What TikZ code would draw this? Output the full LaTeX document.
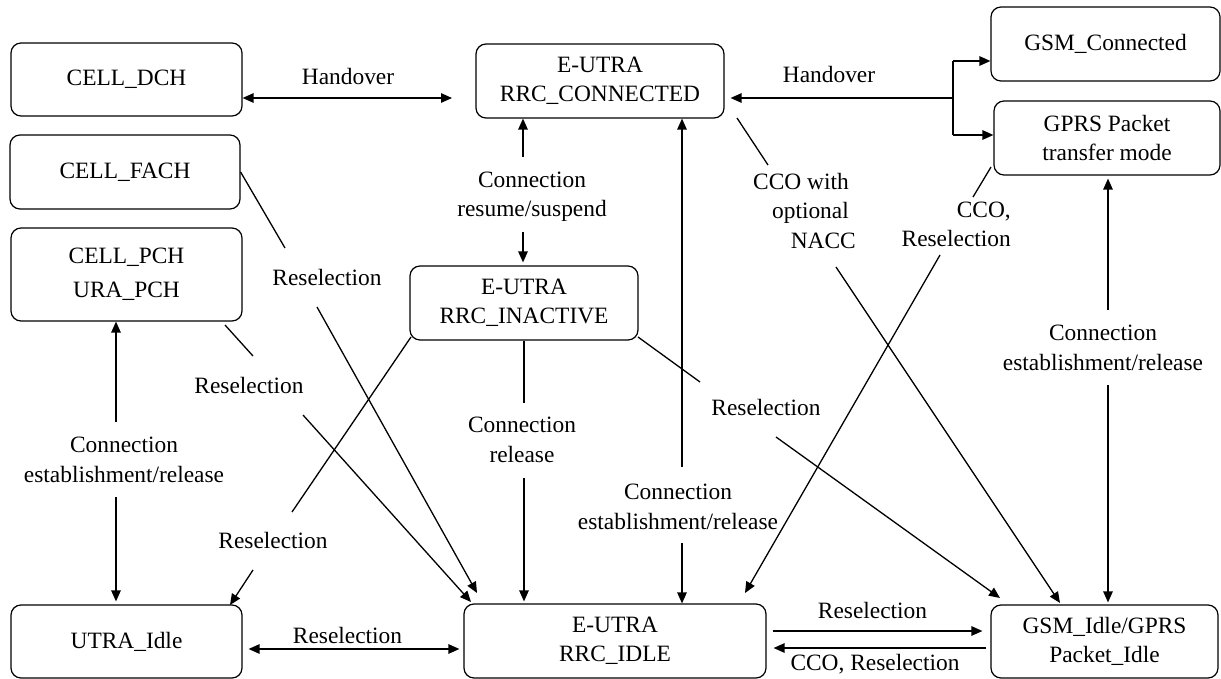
\documentclass[tikz,border=0pt]{standalone}
\usepackage{fontspec}
\setmainfont{Liberation Serif}
\usetikzlibrary{arrows.meta}
\tikzset{
  state/.style={draw, line width=1.2pt, rounded corners=10pt, align=center, inner sep=0pt,
    font=\fontsize{23.4}{29.5}\selectfont},
  lbl/.style={inner sep=0pt, align=center, font=\fontsize{23.4}{29.5}\selectfont},
  ln/.style={line width=1.3pt},
  arr/.style={line width=1.3pt, -{Triangle[length=11pt,width=9.5pt]}},
  dbl/.style={line width=1.3pt, {Triangle[length=11pt,width=9.5pt]}-{Triangle[length=11pt,width=9.5pt]}}
}
\begin{document}
\begin{tikzpicture}[x=1pt,y=-1pt]
\useasboundingbox (0,0) rectangle (1221,679);
% states
\node[state, minimum width=231pt, minimum height=73pt] (dch) at (126.5,79.5) {CELL\_DCH};
\node[state, minimum width=230pt, minimum height=74pt] (fach) at (125,172) {CELL\_FACH};
\node[state, minimum width=231pt, minimum height=93pt] (pch) at (126.5,274.5) {CELL\_PCH\\[5pt]URA\_PCH};
\node[state, minimum width=248pt, minimum height=74pt] (conn) at (600,81) {E-UTRA\\RRC\_CONNECTED};
\node[state, minimum width=228pt, minimum height=74pt] (inact) at (524,303) {E-UTRA\\RRC\_INACTIVE};
\node[state, minimum width=229pt, minimum height=74pt] (gsmc) at (1105.5,44) {GSM\_Connected};
\node[state, minimum width=226pt, minimum height=74pt] (gprs) at (1107,138) {GPRS Packet\\transfer mode};
\node[state, minimum width=231pt, minimum height=73pt] (uidle) at (126.5,641.5) {UTRA\_Idle};
\node[state, minimum width=302pt, minimum height=74pt] (eidle) at (615,641) {E-UTRA\\RRC\_IDLE};
\node[state, minimum width=227pt, minimum height=73pt] (gidle) at (1104.5,641.5) {GSM\_Idle/GPRS\\Packet\_Idle};

% labels
\node[lbl, anchor=base] (lh1) at (348,85) {Handover};
\node[lbl, anchor=base] (lh2) at (829,83) {Handover};
\node[lbl] (lres) at (532,196.5) {Connection\\resume/suspend};
\node[lbl] (lce1) at (678,507) {Connection\\establishment/release};
\node[lbl] (lce2) at (124,460) {Connection\\establishment/release};
\node[lbl] (lce3) at (1103,348) {Connection\\establishment/release};
\node[lbl] (lcr) at (522,440) {Connection\\release};
\node[lbl, align=right, anchor=east] (lnacc) at (849,210.5) {CCO with\\optional\\NACC\hspace*{-7pt}};
\node[lbl, align=right, anchor=east] (lcco) at (1011,224.5) {CCO,\\Reselection};
\node[lbl, anchor=base] (lr1) at (327,285) {Reselection};
\node[lbl, anchor=base] (lr2) at (249,393) {Reselection};
\node[lbl, anchor=base] (lr3) at (273,548) {Reselection};
\node[lbl, anchor=base] (lr4) at (766,415) {Reselection};
\node[lbl, anchor=base] (lr5) at (347.5,643) {Reselection};
\node[lbl, anchor=base] (lr6) at (872.5,618) {Reselection};
\node[lbl, anchor=base] (lr7) at (875,670) {CCO, Reselection};

% handovers
\coordinate (h1) at (452,98);
\draw[dbl] (dch.east |- h1) -- (h1);
\coordinate (br) at (953,98);
\coordinate (brt) at (953,61);
\coordinate (brb) at (953,135);
\draw[arr, shorten >=6pt] (br) -- (conn.east |- br);
\draw[ln] (brt) -- (brb);
\draw[arr] (brt) -- (gsmc.west |- brt);
\draw[arr] (brb) -- (gprs.west |- brb);

% resume/suspend
\coordinate (r1) at (523,157);
\coordinate (r2) at (523,232);
\draw[arr] (r1) -- (r1 |- conn.south);
\draw[arr, shorten >=3pt] (r2) -- (r2 |- inact.north);

% connection establishment/release (E-UTRA)
\coordinate (v1) at (682,467);
\coordinate (v2) at (682,543);
\draw[arr] (v1) -- (v1 |- conn.south);
\draw[arr] (v2) -- (v2 |- eidle.north);

% connection establishment/release (UTRA)
\coordinate (u1) at (116,422);
\coordinate (u2) at (116,497);
\draw[arr] (u1) -- (u1 |- pch.south);
\draw[arr, shorten >=3pt] (u2) -- (u2 |- uidle.north);

% connection establishment/release (GSM)
\coordinate (g1) at (1108,310);
\coordinate (g2) at (1108,385);
\draw[arr, shorten >=3pt] (g1) -- (g1 |- gprs.south);
\draw[arr, shorten >=2pt] (g2) -- (g2 |- gidle.north);

% connection release
\coordinate (c1) at (524,403);
\coordinate (c2) at (524,478);
\draw[ln] (inact.south) -- (c1);
\draw[arr, shorten >=2pt] (c2) -- (c2 |- eidle.north);

% reselections from UTRA connected states
\coordinate (f1) at (285,248);
\coordinate (f2) at (317,307);
\coordinate (f3) at (477,593);
\draw[ln] (fach.east) -- (f1);
\draw[arr] (f2) -- (f3);
\coordinate (p0) at (225,325);
\coordinate (p1) at (253,356);
\coordinate (p2) at (303,415);
\coordinate (p3) at (471,602);
\draw[ln] (p0) -- (p1);
\draw[arr] (p2) -- (p3);

% inactive -> utra idle
\coordinate (i0) at (411,337);
\coordinate (i1) at (292,512);
\coordinate (i2) at (253,570);
\coordinate (i3) at (230,605);
\draw[ln] (i0) -- (i1);
\draw[arr] (i2) -- (i3);

% inactive -> gsm idle
\coordinate (j0) at (638,337);
\coordinate (j1) at (700,382);
\coordinate (j2) at (776,437);
\coordinate (j3) at (1000,598);
\draw[ln] (j0) -- (j1);
\draw[arr] (j2) -- (j3);

% CCO with optional NACC
\coordinate (n0) at (737,118);
\coordinate (n1) at (768,165);
\coordinate (n2) at (836,267);
\coordinate (n3) at (1060,603);
\draw[ln] (n0) -- (n1);
\draw[arr] (n2) -- (n3);

% CCO, Reselection gprs -> eidle
\coordinate (k0) at (991,167);
\coordinate (k1) at (973,197);
\coordinate (k2) at (940,255);
\coordinate (k3) at (745,593);
\draw[ln] (k0) -- (k1);
\draw[arr] (k2) -- (k3);

% bottom row
\coordinate (b1) at (0,649);
\draw[dbl, shorten <=6pt, shorten >=4pt] (uidle.east |- b1) -- (eidle.west |- b1);
\coordinate (b2) at (0,631);
\draw[arr, shorten <=6pt, shorten >=8pt] (eidle.east |- b2) -- (gidle.west |- b2);
\coordinate (b3) at (0,648);
\draw[arr, shorten <=4pt, shorten >=7pt] (gidle.west |- b3) -- (eidle.east |- b3);
\end{tikzpicture}
\end{document}
